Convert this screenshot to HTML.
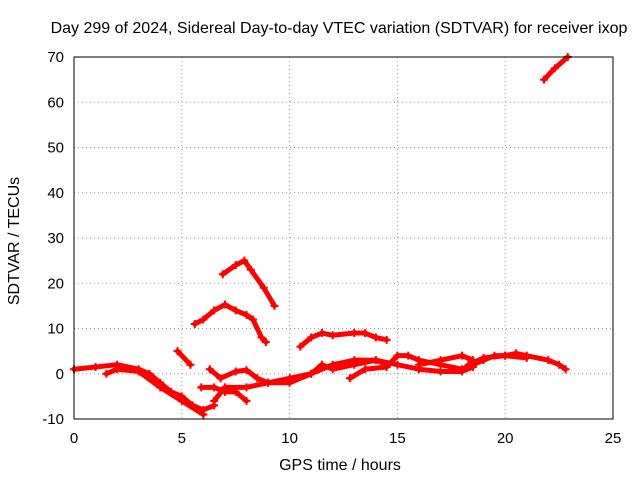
<!DOCTYPE html>
<html><head><meta charset="utf-8"><style>
body{margin:0;background:#fff;}
svg{display:block;font-family:"Liberation Sans",sans-serif;}
</style></head><body>
<svg id="chart" width="640" height="480">
<text x="339" y="33" text-anchor="middle" font-size="16">Day 299 of 2024, Sidereal Day-to-day VTEC variation (SDTVAR) for receiver ixop</text>
<text x="340" y="470" text-anchor="middle" font-size="16">GPS time / hours</text>
<text x="19" y="241" text-anchor="middle" font-size="16" transform="rotate(-90 19 241)">SDTVAR / TECUs</text>
<g id="grid"></g><g id="ticks"></g><g id="series"></g>
<rect x="74" y="57" width="539" height="362" fill="none" stroke="#000" stroke-width="1"/>
</svg>
<script>
const xTicks=[0,5,10,15,20,25];
const yTicks=[-10,0,10,20,30,40,50,60,70];
const tracks=[
[[0,1],[1,1.5],[2,2],[3,1],[3.5,0],[4,-2],[4.5,-4],[5,-5],[5.5,-7],[6,-8],[6.5,-7]],
[[1.5,0],[2,1],[3,0.5],[4,-3],[5,-6],[6,-9]],
[[4.8,5],[5.4,2]],
[[5.6,11],[6,12],[6.5,14],[7,15.3],[7.5,14],[8,13],[8.3,12],[8.7,8],[8.9,7]],
[[6.9,22],[7.5,24],[7.9,25],[8.2,23],[8.8,19],[9.3,15]],
[[6.3,1],[6.8,-1],[7.5,0.5],[8,0.8],[8.5,-1],[9,-2],[10,-2],[11,0],[11.5,2],[12,1],[13,2],[14,3],[14.5,2]],
[[5.9,-3],[6.5,-3],[7,-4],[7.5,-4],[8,-6]],
[[6.5,-6],[7,-3],[8,-3],[9,-2],[10,-1],[11,0],[12,2],[13,3],[14,3],[15,2],[16,1],[17,0.5],[18,0.5],[18.5,1.5]],
[[10.5,6],[11,8],[11.5,9],[12,8.5],[13,9],[13.5,9],[14,8],[14.5,7.5]],
[[12.8,-1],[13.5,1],[14.5,1.5],[15,4],[15.5,4],[16,3],[17,2],[18,1],[19,3],[19.5,4],[20,4],[20.5,4.5],[21,4],[22,3],[22.5,2],[22.8,1]],
[[16,2],[17,3],[18,4],[18.5,3]],
[[18.3,2],[19,3.5],[20,4],[21,3.5]],
[[21.8,65],[22.3,67.5],[22.9,70]]
];
const X=v=>74+v*(539/25), Y=v=>419-(v+10)*(362/80);
const NS="http://www.w3.org/2000/svg";
function mk(t,a,p){const e=document.createElementNS(NS,t);for(const k in a)e.setAttribute(k,a[k]);document.getElementById(p).appendChild(e);return e;}
xTicks.forEach(t=>{
 if(t>0&&t<25){const g=mk('line',{x1:X(t),x2:X(t),y1:57,y2:419,stroke:'#999','stroke-dasharray':'1,3'},'grid');
 
 }
 const l=mk('text',{x:X(t),y:443,'text-anchor':'middle','font-size':'15'},'ticks');l.textContent=t;
 
 
});
yTicks.forEach(t=>{
 if(t>-10&&t<70){const g=mk('line',{x1:74,x2:613,y1:Y(t),y2:Y(t),stroke:'#999','stroke-dasharray':'1,3'},'grid');
 
 }
 const l=mk('text',{x:64,y:Y(t)+5,'text-anchor':'end','font-size':'15'},'ticks');l.textContent=t;
 
 
});
tracks.forEach((tr,i)=>{
 const p=mk('polyline',{points:tr.map(d=>X(d[0])+','+Y(d[1])).join(' '),fill:'none',stroke:'#f00','stroke-width':'5','stroke-linejoin':'round','stroke-linecap':'round'},'series');
 
 
 tr.forEach(d=>{
  const m=mk('path',{d:`M${X(d[0])-4},${Y(d[1])}h8M${X(d[0])},${Y(d[1])-4}v8`,stroke:'#f00','stroke-width':'2'},'series');
  
  
 });
});
</script>
</body></html>
